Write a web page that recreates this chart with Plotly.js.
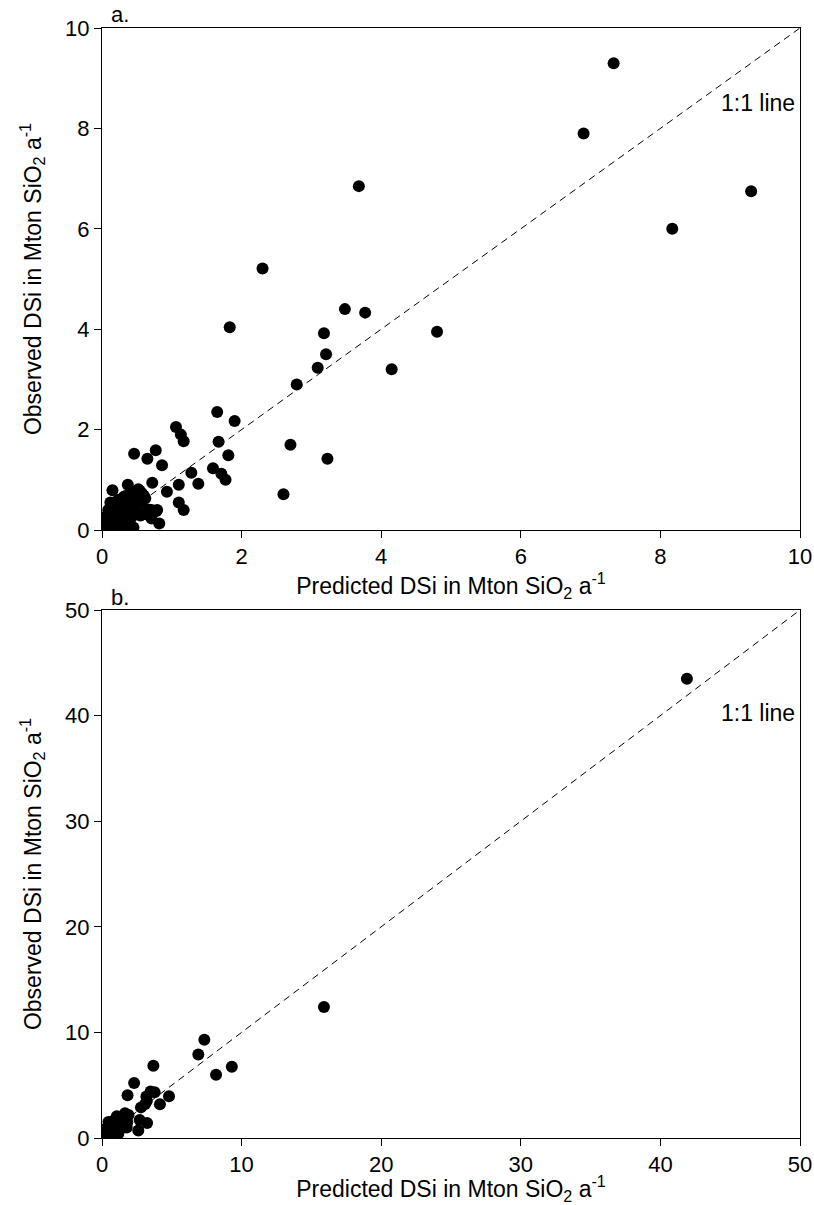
<!DOCTYPE html>
<html>
<head>
<meta charset="utf-8">
<script src="https://cdn.plot.ly/plotly-3.0.1.min.js"></script>
<style>body{margin:0;padding:0;background:#fff}#chart{width:814px;height:1205px}</style>
</head>
<body>
<div id="chart"></div>
<script>
// Panel a: predicted vs observed DSi (Mton SiO2 a^-1)
const predictedA = [
  7.33, 6.90, 3.68, 8.17, 9.30, 2.30, 3.48, 3.77, 1.83, 4.80, 3.18, 4.15, 3.21, 3.09, 2.79,
  1.65, 1.90, 2.70, 3.23, 2.60, 1.06, 1.13, 1.17, 1.67, 1.59, 1.81, 1.71, 1.77, 1.28, 1.38,
  0.77, 0.65, 0.46, 0.86, 1.10, 1.10, 1.17, 0.93, 0.78, 0.82, 0.72, 0.69, 0.55, 0.62, 0.66,
  0.15, 0.37, 0.54, 0.52, 0.57, 0.31, 0.23, 0.18, 0.09, 0.71, 0.79, 0.56, 0.71,
  0.02, 0.05, 0.08, 0.10, 0.12, 0.15, 0.18, 0.20, 0.22, 0.25, 0.28, 0.30, 0.33, 0.35, 0.38,
  0.40, 0.42, 0.45, 0.48, 0.50, 0.10, 0.15, 0.20, 0.25, 0.30, 0.28, 0.35, 0.05, 0.03, 0.12,
  0.40, 0.45, 0.55, 0.58, 0.60, 0.50, 0.44, 0.07, 0.14, 0.24, 0.32
];
const observedA = [
  9.30, 7.90, 6.85, 6.00, 6.75, 5.21, 4.40, 4.33, 4.04, 3.95, 3.92, 3.20, 3.50, 3.23, 2.90,
  2.35, 2.17, 1.70, 1.42, 0.71, 2.05, 1.90, 1.77, 1.76, 1.23, 1.49, 1.12, 1.00, 1.14, 0.92,
  1.59, 1.42, 1.52, 1.29, 0.90, 0.55, 0.40, 0.76, 0.38, 0.13, 0.94, 0.27, 0.29, 0.63, 0.41,
  0.79, 0.90, 0.78, 0.81, 0.73, 0.66, 0.60, 0.46, 0.40, 0.40, 0.40, 0.30, 0.23,
  0.05, 0.10, 0.20, 0.30, 0.05, 0.15, 0.25, 0.10, 0.35, 0.20, 0.05, 0.30, 0.45, 0.15, 0.55,
  0.35, 0.25, 0.60, 0.50, 0.40, 0.40, 0.35, 0.50, 0.45, 0.55, 0.62, 0.68, 0.02, 0.25, 0.55,
  0.10, 0.05, 0.55, 0.60, 0.68, 0.70, 0.75, 0.12, 0.02, 0.08, 0.12
];
// Panel b adds the two largest basins
const extraPredictedB = [15.9, 41.9];
const extraObservedB = [12.4, 43.5];
const predictedB = predictedA.concat(extraPredictedB);
const observedB = observedA.concat(extraObservedB);

const lineA = [0, 10];
const lineB = [0, 50];
const ticksA = [0, 2, 4, 6, 8, 10];
const ticksB = [0, 10, 20, 30, 40, 50];

const xTitle = 'Predicted DSi in Mton SiO<sub>2</sub> a<sup>-1</sup>';
const yTitle = 'Observed DSi in Mton SiO<sub>2</sub> a<sup>-1</sup>';
const FONT = 'Liberation Sans, Arial, Helvetica, sans-serif';

const W = 814, H = 1205;
const px = v => v / W;
const py = v => 1 - v / H;

const marker = {color: '#000', size: 12, line: {width: 0}};
const dashLine = {color: '#000', width: 1, dash: '7px,5px'};

const traces = [
  {x: lineA, y: lineA, mode: 'lines', line: dashLine, xaxis: 'x', yaxis: 'y', hoverinfo: 'skip'},
  {x: predictedA, y: observedA, mode: 'markers', marker: marker, xaxis: 'x', yaxis: 'y'},
  {x: lineB, y: lineB, mode: 'lines', line: dashLine, xaxis: 'x2', yaxis: 'y2', hoverinfo: 'skip'},
  {x: predictedB, y: observedB, mode: 'markers', marker: marker, xaxis: 'x2', yaxis: 'y2'}
];

function axis(range, ticks, title, domain, anchor, standoff) {
  return {
    range: range, domain: domain, anchor: anchor,
    tickmode: 'array', tickvals: ticks, ticktext: ticks.map(String),
    ticks: 'outside', ticklen: 7, tickwidth: 1, tickcolor: '#000',
    showline: true, linecolor: '#000', linewidth: 1, mirror: true,
    showgrid: false, zeroline: false, automargin: true,
    tickfont: {family: FONT, size: 22, color: '#000'},
    title: {text: title, standoff: standoff, font: {family: FONT, size: 23, color: '#000'}},
    fixedrange: true
  };
}

const layout = {
  width: W, height: H,
  margin: {l: 0, r: 0, t: 0, b: 0, autoexpand: false},
  paper_bgcolor: '#fff', plot_bgcolor: '#fff',
  showlegend: false,
  xaxis: axis([0, 10], ticksA, xTitle, [px(102), px(800)], 'y', 3),
  yaxis: axis([0, 10], ticksA, yTitle, [py(530), py(28)], 'x', 17),
  xaxis2: axis([0, 50], ticksB, xTitle, [px(102), px(800)], 'y2', 3),
  yaxis2: axis([0, 50], ticksB, yTitle, [py(1138), py(610)], 'x2', 17),
  annotations: [
    {text: 'a.', xref: 'paper', yref: 'paper', x: px(109), y: py(15), xanchor: 'left', yanchor: 'middle',
     showarrow: false, font: {family: FONT, size: 22, color: '#000'}},
    {text: 'b.', xref: 'paper', yref: 'paper', x: px(109), y: py(597), xanchor: 'left', yanchor: 'middle',
     showarrow: false, font: {family: FONT, size: 22, color: '#000'}},
    {text: '1:1 line', xref: 'x', yref: 'y', x: 9.95, y: 8.5, xanchor: 'right', yanchor: 'middle',
     showarrow: false, font: {family: FONT, size: 23, color: '#000'}},
    {text: '1:1 line', xref: 'x2', yref: 'y2', x: 49.75, y: 40.2, xanchor: 'right', yanchor: 'middle',
     showarrow: false, font: {family: FONT, size: 23, color: '#000'}}
  ]
};

Plotly.newPlot('chart', traces, layout, {displayModeBar: false, staticPlot: true});
</script>
</body>
</html>
